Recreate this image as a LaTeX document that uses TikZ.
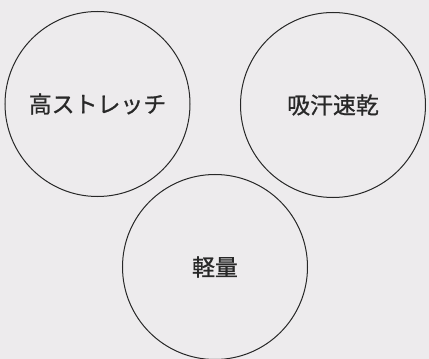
\documentclass[tikz,border=0pt]{standalone}
\usepackage{fontspec}
\newfontfamily\jpfont[FakeBold=0.8]{Noto Sans CJK JP}
\definecolor{bggray}{RGB}{237,235,237}
\definecolor{inkgray}{RGB}{40,40,40}
\tikzset{
    feature/.style={draw=inkgray, line width=1bp, circle, minimum size=185bp,
        inner sep=0pt, text=inkgray, font=\jpfont\fontsize{23pt}{26pt}\selectfont}
}

\begin{document}
\begin{tikzpicture}[x=1bp,y=1bp]
                \useasboundingbox (0, 0) rectangle (429, 359);
                \draw [bggray, fill] (0, 0) rectangle (429, 359);

                \node [feature] (stretch) at (97.5, 255) {高ストレッチ};
                \node [feature] (quickdry) at (333, 254) {吸汗速乾};
                \node [feature] (light) at (215, 92) {軽量};
            \end{tikzpicture}
\end{document}
